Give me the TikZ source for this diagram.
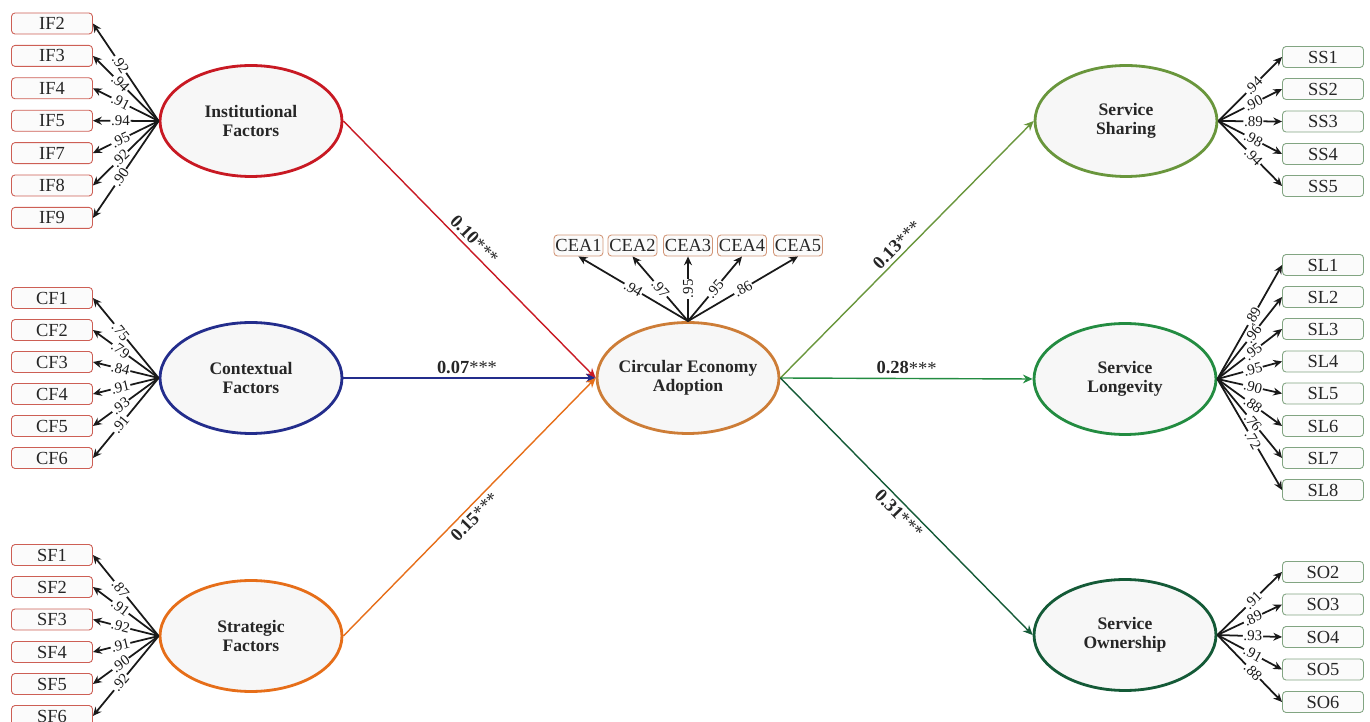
\documentclass[tikz,border=0pt]{standalone}
\usepackage{fontspec}
\setmainfont{Liberation Serif}
\usepackage{xcolor}
\usetikzlibrary{arrows.meta,shapes.geometric}
\definecolor{ifred}{RGB}{200,25,35}
\definecolor{cfblue}{RGB}{35,45,140}
\definecolor{sforange}{RGB}{230,110,25}
\definecolor{ceabrown}{RGB}{205,125,55}
\definecolor{ssgreen}{RGB}{105,150,60}
\definecolor{slgreen}{RGB}{35,140,65}
\definecolor{sogreen}{RGB}{20,90,55}
\definecolor{boxred}{RGB}{205,95,85}
\definecolor{boxtan}{RGB}{210,150,120}
\definecolor{boxgreen}{RGB}{130,165,130}
\tikzset{
  lat/.style={ellipse, draw, line width=1.6pt, fill=black!3, align=center,
              minimum width=3.64cm, minimum height=2.22cm, inner sep=0pt, inner xsep=-12pt,
              font=\fontsize{10}{11}\selectfont\bfseries, text=black!85},
  ind/.style={rectangle, draw, rounded corners=2pt, line width=0.5pt, fill=black!1.5,
              minimum width=1.62cm, minimum height=0.42cm, inner sep=0pt,
              font=\fontsize{10.5}{12}\selectfont, text=black!85},
  indl/.style={ind, draw=boxred},
  indc/.style={ind, draw=boxtan, minimum width=0.98cm},
  indr/.style={ind, draw=boxgreen},
  ld/.style={-{Stealth[length=5pt,width=4.5pt]}, line width=1pt, black!90},
  pth/.style={-{Stealth[length=5.5pt,width=5pt]}, line width=0.8pt},
  lbl/.style={font=\fontsize{8.5}{10}\selectfont, fill=white, inner sep=0.4pt, sloped},
  coef/.style={font=\fontsize{10.5}{12}\selectfont, sloped, inner sep=2pt, text=black!85},
}
\begin{document}
\begin{tikzpicture}[x=0.02cm, y=-0.02cm]
\useasboundingbox (0,0) rectangle (1370,722);
% latent constructs
\node[lat, draw=ifred] (inf) at (251,121) {Institutional\\Factors};
\node[lat, draw=cfblue] (ctx) at (251,378) {Contextual\\Factors};
\node[lat, draw=sforange] (stf) at (251,636) {Strategic\\Factors};
\node[lat, draw=ceabrown] (cea) at (688,378) {Circular Economy\\Adoption};
\node[lat, draw=ssgreen] (ssh) at (1126,121) {Service\\Sharing};
\node[lat, draw=slgreen] (slg) at (1125,379) {Service\\Longevity};
\node[lat, draw=sogreen] (sow) at (1125,635) {Service\\Ownership};
% indicators, left
\node[indl] (if2) at (52,23.5) {IF2};
\node[indl] (if3) at (52,55.9) {IF3};
\node[indl] (if4) at (52,88.3) {IF4};
\node[indl] (if5) at (52,120.7) {IF5};
\node[indl] (if7) at (52,153.1) {IF7};
\node[indl] (if8) at (52,185.5) {IF8};
\node[indl] (if9) at (52,217.9) {IF9};
\node[indl] (cf1) at (52,298) {CF1};
\node[indl] (cf2) at (52,330) {CF2};
\node[indl] (cf3) at (52,362) {CF3};
\node[indl] (cf4) at (52,394) {CF4};
\node[indl] (cf5) at (52,426) {CF5};
\node[indl] (cf6) at (52,458) {CF6};
\node[indl] (sf1) at (52,555) {SF1};
\node[indl] (sf2) at (52,587) {SF2};
\node[indl] (sf3) at (52,619.5) {SF3};
\node[indl] (sf4) at (52,652) {SF4};
\node[indl] (sf5) at (52,684) {SF5};
\node[indl] (sf6) at (52,716) {SF6};
% indicators, top
\node[indc] (cea1) at (578.5,245.5) {CEA1};
\node[indc] (cea2) at (632.5,245.5) {CEA2};
\node[indc] (cea3) at (688,245.5) {CEA3};
\node[indc] (cea4) at (742,245.5) {CEA4};
\node[indc] (cea5) at (798,245.5) {CEA5};
% indicators, right
\node[indr] (ss1) at (1323,57) {SS1};
\node[indr] (ss2) at (1323,89) {SS2};
\node[indr] (ss3) at (1323,121.5) {SS3};
\node[indr] (ss4) at (1323,154) {SS4};
\node[indr] (ss5) at (1323,186) {SS5};
\node[indr] (sl1) at (1323,265) {SL1};
\node[indr] (sl2) at (1323,297) {SL2};
\node[indr] (sl3) at (1323,329) {SL3};
\node[indr] (sl4) at (1323,361.5) {SL4};
\node[indr] (sl5) at (1323,393.5) {SL5};
\node[indr] (sl6) at (1323,426) {SL6};
\node[indr] (sl7) at (1323,458) {SL7};
\node[indr] (sl8) at (1323,490) {SL8};
\node[indr] (so2) at (1323,572) {SO2};
\node[indr] (so3) at (1323,604.5) {SO3};
\node[indr] (so4) at (1323,637) {SO4};
\node[indr] (so5) at (1323,669.5) {SO5};
\node[indr] (so6) at (1323,702) {SO6};
% structural paths
\draw[pth, ifred] (inf.east) -- node[coef, above, pos=0.49]{\textbf{0.10}***} (cea.west);
\draw[pth, cfblue] (ctx.east) -- node[coef, above, pos=0.49]{\textbf{0.07}***} (cea.west);
\draw[pth, sforange] (stf.east) -- node[coef, below, pos=0.49]{\textbf{0.15}***} (cea.west);
\draw[pth, ssgreen] (cea.east) -- node[coef, above, pos=0.49]{\textbf{0.13}***} (ssh.west);
\draw[pth, slgreen] (cea.east) -- node[coef, above, pos=0.5]{\textbf{0.28}***} (slg.west);
\draw[pth, sogreen] (cea.east) -- node[coef, below, pos=0.5]{\textbf{0.31}***} (sow.west);
% loadings
\draw[ld] (inf.west) -- node[lbl, pos=0.58]{.92} (if2.east);
\draw[ld] (inf.west) -- node[lbl, pos=0.58]{.94} (if3.east);
\draw[ld] (inf.west) -- node[lbl, pos=0.58]{.91} (if4.east);
\draw[ld] (inf.west) -- node[lbl, pos=0.58]{.94} (if5.east);
\draw[ld] (inf.west) -- node[lbl, pos=0.58]{.95} (if7.east);
\draw[ld] (inf.west) -- node[lbl, pos=0.58]{.92} (if8.east);
\draw[ld] (inf.west) -- node[lbl, pos=0.58]{.90} (if9.east);
\draw[ld] (ctx.west) -- node[lbl, pos=0.58]{.75} (cf1.east);
\draw[ld] (ctx.west) -- node[lbl, pos=0.58]{.79} (cf2.east);
\draw[ld] (ctx.west) -- node[lbl, pos=0.58]{.84} (cf3.east);
\draw[ld] (ctx.west) -- node[lbl, pos=0.58]{.91} (cf4.east);
\draw[ld] (ctx.west) -- node[lbl, pos=0.58]{.93} (cf5.east);
\draw[ld] (ctx.west) -- node[lbl, pos=0.58]{.91} (cf6.east);
\draw[ld] (stf.west) -- node[lbl, pos=0.58]{.87} (sf1.east);
\draw[ld] (stf.west) -- node[lbl, pos=0.58]{.91} (sf2.east);
\draw[ld] (stf.west) -- node[lbl, pos=0.58]{.92} (sf3.east);
\draw[ld] (stf.west) -- node[lbl, pos=0.58]{.91} (sf4.east);
\draw[ld] (stf.west) -- node[lbl, pos=0.58]{.90} (sf5.east);
\draw[ld] (stf.west) -- node[lbl, pos=0.58]{.92} (sf6.east);
\draw[ld] (cea.north) -- node[lbl, pos=0.5]{.94} (cea1.south);
\draw[ld] (cea.north) -- node[lbl, pos=0.5]{.97} (cea2.south);
\draw[ld] (cea.north) -- node[lbl, pos=0.5]{.95} (cea3.south);
\draw[ld] (cea.north) -- node[lbl, pos=0.5]{.95} (cea4.south);
\draw[ld] (cea.north) -- node[lbl, pos=0.5]{.86} (cea5.south);
\draw[ld] (ssh.east) -- node[lbl, pos=0.55]{.94} (ss1.west);
\draw[ld] (ssh.east) -- node[lbl, pos=0.55]{.90} (ss2.west);
\draw[ld] (ssh.east) -- node[lbl, pos=0.55]{.89} (ss3.west);
\draw[ld] (ssh.east) -- node[lbl, pos=0.55]{.98} (ss4.west);
\draw[ld] (ssh.east) -- node[lbl, pos=0.55]{.94} (ss5.west);
\draw[ld] (slg.east) -- node[lbl, pos=0.55]{.89} (sl1.west);
\draw[ld] (slg.east) -- node[lbl, pos=0.55]{.96} (sl2.west);
\draw[ld] (slg.east) -- node[lbl, pos=0.55]{.95} (sl3.west);
\draw[ld] (slg.east) -- node[lbl, pos=0.55]{.95} (sl4.west);
\draw[ld] (slg.east) -- node[lbl, pos=0.55]{.90} (sl5.west);
\draw[ld] (slg.east) -- node[lbl, pos=0.55]{.88} (sl6.west);
\draw[ld] (slg.east) -- node[lbl, pos=0.55]{.76} (sl7.west);
\draw[ld] (slg.east) -- node[lbl, pos=0.55]{.72} (sl8.west);
\draw[ld] (sow.east) -- node[lbl, pos=0.55]{.91} (so2.west);
\draw[ld] (sow.east) -- node[lbl, pos=0.55]{.89} (so3.west);
\draw[ld] (sow.east) -- node[lbl, pos=0.55]{.93} (so4.west);
\draw[ld] (sow.east) -- node[lbl, pos=0.55]{.91} (so5.west);
\draw[ld] (sow.east) -- node[lbl, pos=0.55]{.88} (so6.west);
\end{tikzpicture}
\end{document}
